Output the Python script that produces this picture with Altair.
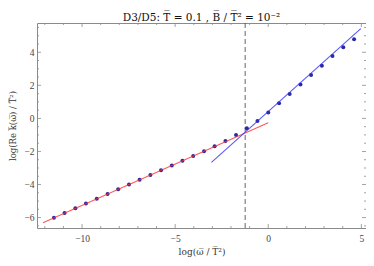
import altair as alt
import pandas as pd

# data
pt_x = [-11.51, -10.94, -10.36, -9.79, -9.21, -8.63, -8.06, -7.48, -6.91, -6.33,
        -5.76, -5.18, -4.61, -4.03, -3.45, -2.88, -2.30, -1.73, -1.15, -0.58,
        0.00, 0.58, 1.15, 1.73, 2.30, 2.88, 3.45, 4.03, 4.61]
pt_y = [-6.01, -5.72, -5.44, -5.15, -4.86, -4.57, -4.28, -4.00, -3.71, -3.42,
        -3.13, -2.85, -2.56, -2.27, -1.98, -1.68, -1.36, -1.00, -0.60, -0.16,
        0.36, 0.92, 1.47, 2.05, 2.63, 3.19, 3.77, 4.31, 4.79]
red_x = [-12.1, 0.0]
red_y = [-6.31, -0.27]
blue_x = [-3.05, 4.97]
blue_y = [-2.66, 5.43]
dash_x = [-1.24]
x_major = [-10, -5, 0, 5]
x_minor = [-12, -11, -9, -8, -7, -6, -4, -3, -2, -1, 1, 2, 3, 4]
y_major = [-6, -4, -2, 0, 2, 4]
y_minor = [-6.5, -5.5, -5, -4.5, -3.5, -3, -2.5, -1.5, -1, -0.5,
           0.5, 1, 1.5, 2.5, 3, 3.5, 4.5, 5, 5.5]

W, H = 329, 205
FONT = "Liberation Serif"
FONT2 = "DejaVu Serif"
FRAME = "#8a8a8a"

xs = alt.Scale(domain=[-12.42, 5.25], nice=False, zero=False)
ys = alt.Scale(domain=[-6.63, 5.77], nice=False, zero=False)
xaxis = alt.Axis(values=x_major, ticks=False, domain=False, grid=False,
                 title="log(ω\u0305 / T\u0305²)", titleFont=FONT2, titleFontSize=9,
                 labelPadding=5, titlePadding=5, format="d")
yaxis = alt.Axis(values=y_major, ticks=False, domain=False, grid=False,
                 title="log(Re k\u0305(ω\u0305) / T\u0305²)", titleFont=FONT2, titleFontSize=8.5,
                 labelPadding=3, titlePadding=6, format="d")
X = alt.X("x:Q", scale=xs, axis=xaxis)
Y = alt.Y("y:Q", scale=ys, axis=yaxis)

pts = pd.DataFrame({"x": pt_x, "y": pt_y})
red = pd.DataFrame({"x": red_x, "y": red_y})
blue = pd.DataFrame({"x": blue_x, "y": blue_y})
dash = pd.DataFrame({"x": dash_x})
xmaj = pd.DataFrame({"x": x_major})
xmin = pd.DataFrame({"x": x_minor})
ymaj = pd.DataFrame({"y": y_major})
ymin = pd.DataFrame({"y": y_minor})

layers = []
for df, L in [(xmaj, 4), (xmin, 2)]:
    layers.append(alt.Chart(df).mark_rule(color=FRAME, strokeWidth=0.8).encode(
        x=X, y=alt.value(H), y2=alt.value(H - L)))
    layers.append(alt.Chart(df).mark_rule(color=FRAME, strokeWidth=0.8).encode(
        x=X, y=alt.value(0), y2=alt.value(L)))
for df, L in [(ymaj, 4), (ymin, 2)]:
    layers.append(alt.Chart(df).mark_rule(color=FRAME, strokeWidth=0.8).encode(
        y=Y, x=alt.value(0), x2=alt.value(L)))
    layers.append(alt.Chart(df).mark_rule(color=FRAME, strokeWidth=0.8).encode(
        y=Y, x=alt.value(W), x2=alt.value(W - L)))

layers.append(alt.Chart(dash).mark_rule(color="#555555", strokeWidth=0.9,
                                        strokeDash=[5, 3]).encode(x=X))
layers.append(alt.Chart(pts).mark_circle(color="#2a2a9c", size=16, opacity=1).encode(x=X, y=Y))
layers.append(alt.Chart(red).mark_line(color="#ff3030", strokeWidth=1.1, opacity=0.8).encode(x=X, y=Y))
layers.append(alt.Chart(blue).mark_line(color="#3030ff", strokeWidth=1.1, opacity=0.8).encode(x=X, y=Y))

chart = alt.layer(*layers).properties(
    width=W, height=H,
    title=alt.TitleParams("D3/D5: T\u0305 = 0.1 , B\u0305 / T\u0305² = 10⁻²", font=FONT2,
                          fontSize=10.5, fontWeight="normal", color="#111111", offset=3,
                          baseline="alphabetic", frame="group", dy=12),
    autosize=alt.AutoSizeParams(type="none"),
    padding={"left": 29, "top": 15, "right": 0, "bottom": 30},
).configure_view(stroke=FRAME, strokeWidth=1).configure_axis(
    labelFont=FONT, labelFontSize=9.5, labelColor="#444444",
    titleFont=FONT, titleFontSize=10, titleFontWeight="normal", titleColor="#333333",
)

chart.save("out.html", embed_options={"renderer": "svg", "actions": False})
